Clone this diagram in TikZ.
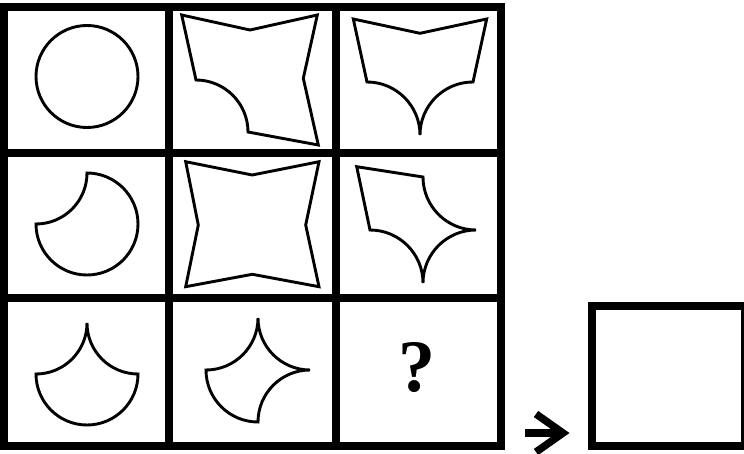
\documentclass[tikz,border=0pt]{standalone}
\usepackage{fontspec}
\setmainfont{Liberation Serif}
\usepackage{tikz}

\begin{document}
\begin{tikzpicture}[
  x=1pt,y=-1pt,
  grade/.style={line width=8pt},
  fig/.style={line width=2.9pt,line join=miter},
  seta/.style={line width=7.5pt}
]
  \useasboundingbox (0,0) rectangle (744,454);
  % grade 3x3
  \draw[grade] (4,6.7) rectangle (501,446);
  \foreach \x in {169,335.5} \draw[grade] (\x,6.7) -- (\x,446);
  \foreach \y in {153,298} \draw[grade] (4,\y) -- (501,\y);

  % linha 1
  \draw[fig] (87,76.5) circle[radius=51];
  \draw[fig] (181.7,15) -- (250,30) -- (317.3,15) -- (303.3,78.3) -- (318.3,145) -- (248,132)
    arc[start angle=0,end angle=-90,radius=52] -- cycle;
  \draw[fig] (353.3,19) -- (420,33.3) -- (486.7,19) -- (473,82)
    arc[start angle=270,end angle=180,radius=53]
    arc[start angle=0,end angle=-90,radius=53] -- cycle;

  % linha 2
  \draw[fig] (87,173) arc[start angle=-90,end angle=180,radius=51]
    arc[start angle=90,end angle=0,radius=51] -- cycle;
  \draw[fig] (185.7,161.7) -- (252.3,175) -- (319,161.7) -- (305.7,225) -- (319,286.7)
    -- (252.3,274.3) -- (185.7,286.7) -- (198.3,225) -- cycle;
  \draw[fig] (356.7,166.7) -- (423,177)
    arc[start angle=180,end angle=90,radius=53]
    arc[start angle=270,end angle=180,radius=53]
    arc[start angle=0,end angle=-90,radius=53] -- cycle;

  % linha 3
  \draw[fig] (87,323) arc[start angle=180,end angle=90,radius=51]
    arc[start angle=0,end angle=180,radius=51]
    arc[start angle=90,end angle=0,radius=51] -- cycle;
  \draw[fig] (206,370) arc[start angle=90,end angle=0,radius=52]
    arc[start angle=180,end angle=90,radius=52]
    arc[start angle=270,end angle=180,radius=52]
    arc[start angle=90,end angle=180,radius=52] -- cycle;
  \node[font=\bfseries\fontsize{74}{74}\selectfont] (interrog) at (417,368) {?};

  % resposta
  \draw[grade] (591.5,306) rectangle (744.5,445.5);
  \coordinate (cauda) at (525,433);
  \coordinate (ponta) at (563,433);
  \draw[seta] (cauda) -- ([shift={(-2,0)}]ponta);
  \draw[seta] ([shift={(-27,-19)}]ponta) -- (ponta) -- ([shift={(-27,19)}]ponta);
\end{tikzpicture}
\end{document}
